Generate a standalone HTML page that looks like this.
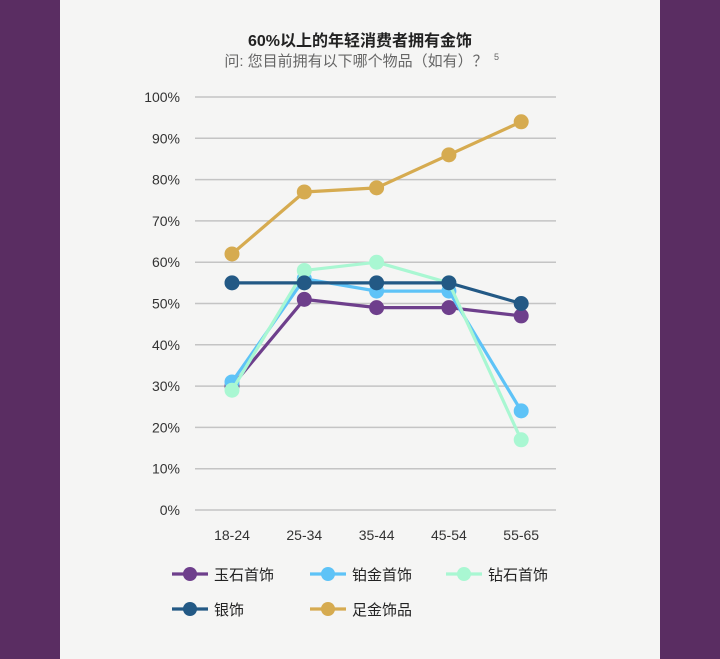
<!DOCTYPE html>
<html><head><meta charset="utf-8"><style>
body{margin:0;width:720px;height:659px;background:#5a2d62;font-family:"Liberation Sans","Noto Sans CJK SC",sans-serif;overflow:hidden}
#panel{position:absolute;left:60px;top:0;width:600px;height:659px;background:#f5f5f4}
</style></head><body>
<div id="panel"></div>
<svg id="chart" width="720" height="659" style="position:absolute;left:0;top:0">
<text x="360" y="46" text-anchor="middle" font-size="16" font-weight="bold" fill="#222">60%以上的年轻消费者拥有金饰</text>
<text x="356" y="66" text-anchor="middle" font-size="15" fill="#666">问: 您目前拥有以下哪个物品（如有）？</text>
<text x="494" y="60" font-size="9" fill="#666">5</text>
<g id="grid"></g><g id="series"></g><g id="legend"></g>
</svg>
<script>
const categories=["18-24","25-34","35-44","45-54","55-65"];
const yTicks=[0,10,20,30,40,50,60,70,80,90,100];
const seriesNames=["玉石首饰","铂金首饰","钻石首饰","银饰","足金饰品"];
const jade=[30,51,49,49,47];
const platinum=[31,56,53,53,24];
const diamond=[29,58,60,55,17];
const silver=[55,55,55,55,50];
const gold=[62,77,78,86,94];
const values=[jade,platinum,diamond,silver,gold];
const colors=["#6e3f8c","#5ec3f7","#a9f7d2","#235985","#d6ab50"];
const NS="http://www.w3.org/2000/svg";
const x=i=>232+i*72.3;
const y=v=>510-v*4.13;
function mk(t,a,p){const e=document.createElementNS(NS,t);for(const k in a)e.setAttribute(k,a[k]);p.appendChild(e);return e;}
const grid=document.getElementById('grid');
yTicks.forEach(t=>{
 const l=mk('line',{x1:195,x2:556,y1:y(t),y2:y(t),stroke:'#c4c4c4','stroke-width':1.5},grid);
 
 
 const tx=mk('text',{x:180,y:y(t)+5,'text-anchor':'end','font-size':14,fill:'#333'},grid);
 tx.textContent=t+'%';
 
 
});
categories.forEach((c,i)=>{
 const tx=mk('text',{x:x(i),y:540,'text-anchor':'middle','font-size':14,fill:'#333'},grid);
 tx.textContent=c;
 
 
});
const sg=document.getElementById('series');
values.forEach((vals,s)=>{
 const g=mk('g',{},sg);
 
 
 const pl=mk('polyline',{points:vals.map((v,i)=>x(i)+','+y(v)).join(' '),fill:'none',stroke:colors[s],'stroke-width':3.2},g);
 
 
 vals.forEach((v,i)=>{
  const c=mk('circle',{cx:x(i),cy:y(v),r:7.5,fill:colors[s]},g);
  
  
 });
});
const lg=document.getElementById('legend');
const lpos=[[172,574],[310,574],[446,574],[172,609],[310,609]];
seriesNames.forEach((n,s)=>{
 const g=mk('g',{},lg);
 
 
 const [lx,ly]=lpos[s];
 mk('line',{x1:lx,x2:lx+36,y1:ly,y2:ly,stroke:colors[s],'stroke-width':3.2},g);
 mk('circle',{cx:lx+18,cy:ly,r:7,fill:colors[s]},g);
 const t=mk('text',{x:lx+42,y:ly+6,'font-size':15,fill:'#222'},g);
 t.textContent=n;
});
</script>
</body></html>
